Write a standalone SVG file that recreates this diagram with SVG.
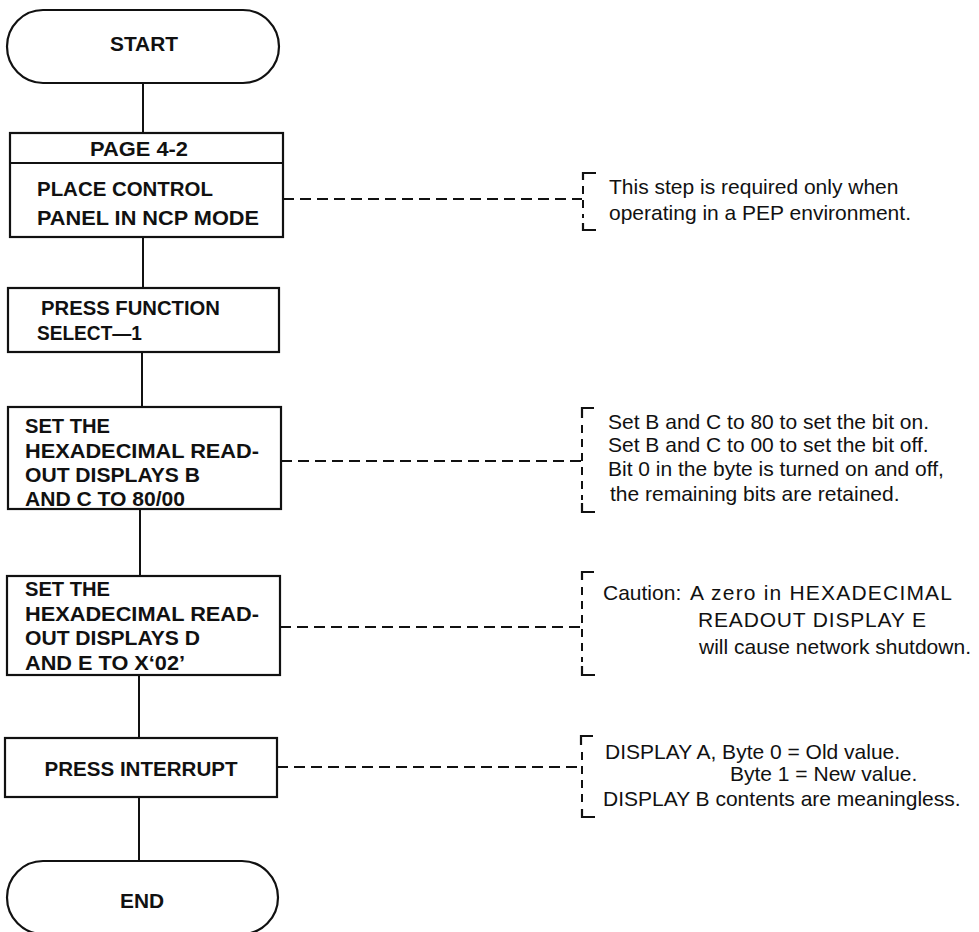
<svg xmlns="http://www.w3.org/2000/svg" width="979" height="932" viewBox="0 0 979 932">
<style>
.box{fill:#fff;stroke:#111;stroke-width:2.2}
.flow{stroke:#111;stroke-width:2;fill:none}
.dash{stroke:#111;stroke-width:2;fill:none;stroke-dasharray:11 6}
.vdash{stroke:#111;stroke-width:2;fill:none;stroke-dasharray:8 6}
.corner{stroke:#111;stroke-width:2.2;fill:none}
.b{font-family:"Liberation Sans",Arial,sans-serif;font-weight:bold;font-size:20px;fill:#111}
.r{font-family:"Liberation Sans",Arial,sans-serif;font-size:21px;fill:#111}
</style>
<rect width="979" height="932" fill="#fff"/>
<g id="connectors">
<line class="flow" x1="143" y1="83" x2="143" y2="133"/>
<line class="flow" x1="143" y1="237" x2="143" y2="288"/>
<line class="flow" x1="142" y1="352" x2="142" y2="407"/>
<line class="flow" x1="140" y1="509" x2="140" y2="576"/>
<line class="flow" x1="139" y1="675" x2="139" y2="738"/>
<line class="flow" x1="139" y1="797" x2="139" y2="861"/>
<line class="dash" x1="283" y1="199" x2="582" y2="199"/>
<line class="dash" x1="281" y1="461" x2="582" y2="461"/>
<line class="dash" x1="280" y1="627" x2="582" y2="627"/>
<line class="dash" x1="277" y1="767" x2="582" y2="767"/>
</g>
<g id="start">
<rect class="box" x="7" y="10" width="272" height="73" rx="36" ry="36.5"/>
<text class="b" x="144" y="50.5" text-anchor="middle" textLength="68" lengthAdjust="spacingAndGlyphs">START</text>
</g>
<g id="place-control-panel">
<rect class="box" x="10" y="133" width="273" height="104"/>
<line class="box" x1="10" y1="163" x2="283" y2="163"/>
<text class="b" x="139" y="155.5" text-anchor="middle" textLength="98" lengthAdjust="spacingAndGlyphs">PAGE 4-2</text>
<text class="b" x="37" y="195.5" textLength="176" lengthAdjust="spacingAndGlyphs">PLACE CONTROL</text>
<text class="b" x="37" y="224.5" textLength="222" lengthAdjust="spacingAndGlyphs">PANEL IN NCP  MODE</text>
</g>
<g id="press-function-select">
<rect class="box" x="8" y="288" width="271" height="64"/>
<text class="b" x="41" y="315" textLength="179" lengthAdjust="spacingAndGlyphs">PRESS FUNCTION</text>
<text class="b" x="37" y="340" textLength="105" lengthAdjust="spacingAndGlyphs">SELECT—1</text>
</g>
<g id="set-bc">
<rect class="box" x="8" y="407" width="273" height="102"/>
<text class="b" x="25" y="432.5" textLength="85" lengthAdjust="spacingAndGlyphs">SET THE</text>
<text class="b" x="25" y="457.5" textLength="234" lengthAdjust="spacingAndGlyphs">HEXADECIMAL READ-</text>
<text class="b" x="25" y="481.5" textLength="175" lengthAdjust="spacingAndGlyphs">OUT DISPLAYS B</text>
<text class="b" x="25" y="505.5" textLength="160" lengthAdjust="spacingAndGlyphs">AND C TO 80/00</text>
</g>
<g id="set-de">
<rect class="box" x="7" y="576" width="273" height="99"/>
<text class="b" x="25" y="595.5" textLength="85" lengthAdjust="spacingAndGlyphs">SET THE</text>
<text class="b" x="25" y="620.5" textLength="234" lengthAdjust="spacingAndGlyphs">HEXADECIMAL READ-</text>
<text class="b" x="25" y="644.5" textLength="175" lengthAdjust="spacingAndGlyphs">OUT DISPLAYS D</text>
<text class="b" x="25" y="669.5" textLength="160" lengthAdjust="spacingAndGlyphs">AND E TO X‘02’</text>
</g>
<g id="press-interrupt">
<rect class="box" x="5" y="738" width="272" height="59"/>
<text class="b" x="141" y="775.5" text-anchor="middle" textLength="193" lengthAdjust="spacingAndGlyphs">PRESS INTERRUPT</text>
</g>
<g id="end">
<rect class="box" x="7" y="861" width="271" height="73" rx="36" ry="36.5"/>
<text class="b" x="142" y="907.5" text-anchor="middle" textLength="44" lengthAdjust="spacingAndGlyphs">END</text>
</g>
<g id="note-pep">
<path class="corner" d="M596 173 H583 V180"/>
<line class="vdash" x1="583" y1="186" x2="583" y2="218"/>
<path class="corner" d="M583 223 V230 H596"/>
<text class="r" x="609" y="194">This step is required only when</text>
<text class="r" x="609" y="220">operating in a PEP environment.</text>
</g>
<g id="note-bits">
<path class="corner" d="M594 408 H582 V418"/>
<line class="vdash" x1="582" y1="425" x2="582" y2="500"/>
<path class="corner" d="M582 503 V512 H595"/>
<text class="r" x="608" y="429">Set B and C to 80 to set the bit on.</text>
<text class="r" x="608" y="452">Set B and C to 00 to set the bit off.</text>
<text class="r" x="608" y="476">Bit 0 in the byte is turned on and off,</text>
<text class="r" x="610" y="501">the remaining bits are retained.</text>
</g>
<g id="note-caution">
<path class="corner" d="M594 572 H582 V580"/>
<line class="vdash" x1="582" y1="587" x2="582" y2="662"/>
<path class="corner" d="M582 666 V675 H595"/>
<text class="r" x="603" y="600">Caution:</text>
<text class="r" x="690" y="600" textLength="262" lengthAdjust="spacing">A zero in HEXADECIMAL</text>
<text class="r" x="698" y="627" textLength="228" lengthAdjust="spacing">READOUT DISPLAY E</text>
<text class="r" x="699" y="654">will cause network shutdown.</text>
</g>
<g id="note-display">
<path class="corner" d="M593 736 H581 V745"/>
<line class="vdash" x1="582" y1="752" x2="582" y2="805"/>
<path class="corner" d="M582 809 V817 H595"/>
<text class="r" x="605" y="759">DISPLAY A, Byte 0 = Old value.</text>
<text class="r" x="730" y="781">Byte 1 = New value.</text>
<text class="r" x="603" y="806">DISPLAY B contents are meaningless.</text>
</g>
</svg>
